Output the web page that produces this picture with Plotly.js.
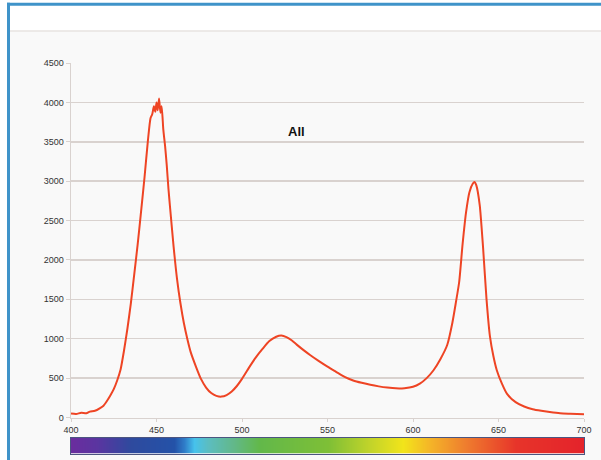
<!DOCTYPE html>
<html>
<head>
<meta charset="utf-8">
<script src="https://cdn.plot.ly/plotly-3.0.1.min.js"></script>
<style>
html,body{margin:0;padding:0;background:#ffffff;}
#chart{width:601px;height:460px;}
</style>
</head>
<body>
<div id="chart"></div>
<script>
// Spectrum data (wavelength in nm, intensity)
const wavelength = [400,403,406,409,411,414,417,419,421,423,425,427,429,431,433,435,437,439,441,443,445,446.5,447.5,448.5,449.3,450,450.7,451.5,452.3,453,454,455,456,457,458,460,462,464,466,468,470,473,476,479,482,485,488,491,494,497,500,504,508,512,516,520,523,526,529,532,536,540,545,550,555,560,565,570,575,580,585,590,595,600,604,608,612,616,620,623,625,627,629,631,633,635,636,637,639,641,643,645,647,649,652,655,660,665,670,675,680,686,692,700];
const intensity = [50,45,60,55,75,85,120,150,210,280,360,470,610,850,1130,1450,1820,2200,2620,3050,3520,3800,3850,3950,3880,4000,3900,4050,3870,3950,3650,3450,3200,2900,2650,2170,1760,1450,1200,1000,830,650,490,380,310,275,265,285,330,400,490,630,760,870,970,1025,1040,1020,980,925,855,790,715,645,580,515,470,440,415,395,380,370,372,390,430,500,600,740,920,1200,1450,1720,2200,2600,2860,2970,2990,2950,2700,2150,1500,1030,780,600,430,300,195,140,105,85,70,55,48,40];

// Tick labels
const xTicks = [400,450,500,550,600,650,700];
const yTicks = [0,500,1000,1500,2000,2500,3000,3500,4000,4500];

// Visible-spectrum colour bar stops
const specWl = [400,415,435,460,466,472,480,495,510,550,575,594,610,630,660,700];
const specColors = ['#6a2d9e','#5a35a0','#2e4a9e','#2452a8','#2f7cc8','#46c2ec','#5cbdc0','#62b88a','#62b84a','#7ebf36','#c2d42a','#f2e41a','#f4b428','#ef7f2e','#e7342a','#e4232b'];

const chartTitle = 'All';

const colorscale = specWl.map((w,i)=>[(w-specWl[0])/(specWl[specWl.length-1]-specWl[0]), specColors[i]]);

// layout geometry helpers (pixels -> paper)
const L=71, R=17, T=63, B=5, W=601, H=460;
const PW=W-L-R, PH=H-T-B;
const px=x=>(x-L)/PW;
const py=y=>(H-B-y)/PH;

const traces = [
  {
    x: wavelength, y: intensity, type:'scatter', mode:'lines',
    line:{color:'#ee4424', width:2, shape:'spline', smoothing:0.6}, xaxis:'x', yaxis:'y', hoverinfo:'skip'
  },
  {
    type:'heatmap', x: specWl, y:[0,1], z:[specWl, specWl],
    colorscale: colorscale, zmin: specWl[0], zmax: specWl[specWl.length-1],
    zsmooth:'best', showscale:false, xaxis:'x2', yaxis:'y2', hoverinfo:'skip'
  }
];

const gridC = '#d9d2cf';
const layout = {
  width: W, height: H,
  margin:{l:L, r:R, t:T, b:B, pad:0},
  paper_bgcolor:'#ffffff',
  plot_bgcolor:'#f9f9f9',
  showlegend:false,
  font:{family:'Liberation Sans, Arial, sans-serif', size:9, color:'#333333'},
  xaxis:{
    domain:[0,1], anchor:'y', range:[400,700], tickvals:xTicks, ticktext:xTicks.map(String),
    showgrid:false, zeroline:false, showline:true, linecolor:gridC, linewidth:1.5,
    ticks:'outside', ticklen:3, tickcolor:gridC, tickfont:{size:9, color:'#333'}
  },
  yaxis:{
    domain:[py(417.5), 1], anchor:'x', range:[0,4500], tickvals:yTicks, ticktext:yTicks.map(String),
    showgrid:true, gridcolor:gridC, gridwidth:1.5, zeroline:false,
    showline:true, linecolor:gridC, linewidth:1.5,
    ticks:'outside', ticklen:4, tickcolor:gridC, tickfont:{size:9, color:'#333'}
  },
  xaxis2:{
    domain:[0,1], anchor:'y2', range:[400,700], showticklabels:false, showgrid:false,
    zeroline:false, showline:true, mirror:true, linecolor:'#4c5580', linewidth:1, ticks:''
  },
  yaxis2:{
    domain:[py(453.5), py(437.5)], anchor:'x2', range:[0,1], showticklabels:false, showgrid:false,
    zeroline:false, showline:true, mirror:true, linecolor:'#4c5580', linewidth:1, ticks:''
  },
  annotations:[
    {text:'<b>'+chartTitle+'</b>', xref:'x', yref:'y', x:532, y:3628, showarrow:false,
     font:{family:'Liberation Sans, Arial, sans-serif', size:13, color:'#111'}}
  ],
  shapes:[
    {type:'rect', xref:'paper', yref:'paper', x0:px(10), x1:px(601), y0:py(460), y1:py(31.5),
     fillcolor:'#f9f9f9', line:{width:0}, layer:'below'},
    {type:'line', xref:'paper', yref:'paper', x0:px(10), x1:px(601), y0:py(31), y1:py(31),
     line:{color:'#dcd6d2', width:1.2}, layer:'below'},
    {type:'rect', xref:'paper', yref:'paper', x0:px(7), x1:px(601), y0:py(5.8), y1:py(2.8),
     fillcolor:'#3f93c9', line:{width:0}, layer:'above'},
    {type:'rect', xref:'paper', yref:'paper', x0:px(7), x1:px(10), y0:py(460), y1:py(2.8),
     fillcolor:'#3f93c9', line:{width:0}, layer:'above'}
  ]
};

Plotly.newPlot('chart', traces, layout, {staticPlot:true, displayModeBar:false});
</script>
</body>
</html>
